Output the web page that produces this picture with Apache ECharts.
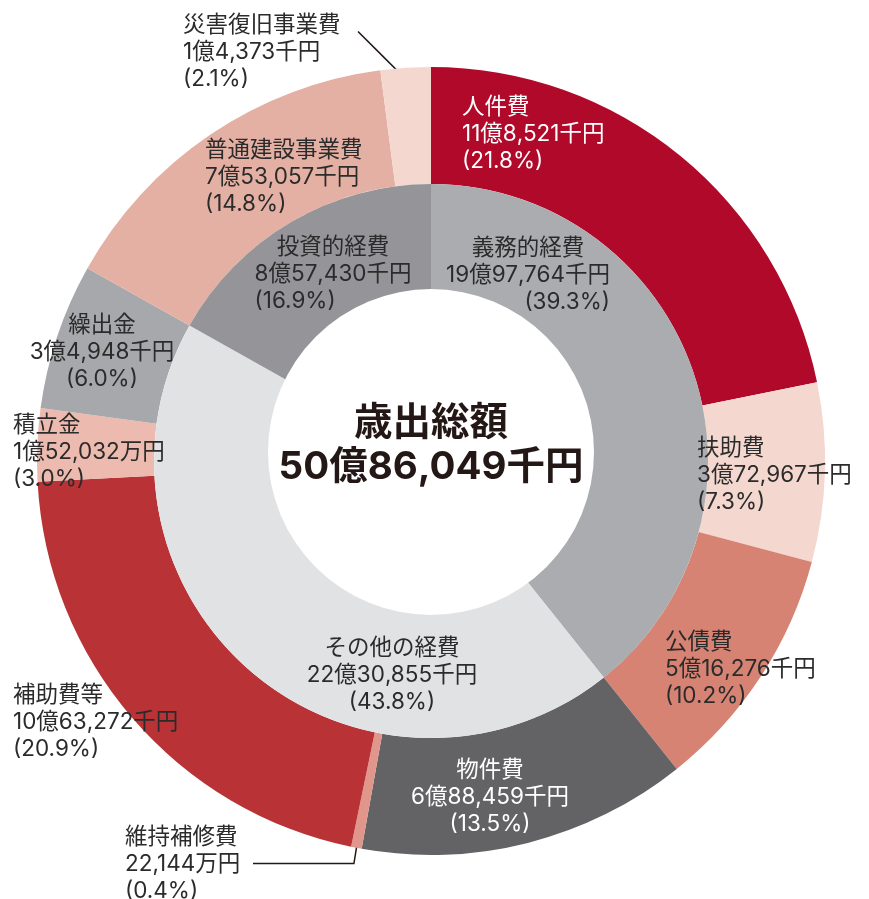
<!DOCTYPE html>
<html>
<head>
<meta charset="utf-8">
<script src="https://cdn.jsdelivr.net/npm/echarts@6/dist/echarts.min.js"></script>
<style>
html, body { margin: 0; padding: 0; background: #fff; }
#chart { width: 869px; height: 899px; }
</style>
</head>
<body>
<div id="chart"></div>
<script>
// 歳出（性質別）  単位: 千円
var outerNames = ['人件費', '扶助費', '公債費', '物件費', '維持補修費', '補助費等', '積立金', '繰出金', '普通建設事業費', '災害復旧事業費'];
var outerValues = [1108521, 372967, 516276, 688459, 22144, 1063272, 152032, 304948, 753057, 104373];
// 図中の表記どおり（維持補修費・積立金は「万円」表記）
var outerUnits = ['千円', '千円', '千円', '千円', '万円', '千円', '万円', '千円', '千円', '千円'];
var outerGroup = [0, 0, 0, 1, 1, 1, 1, 1, 2, 2];

var innerNames = ['義務的経費', 'その他の経費', '投資的経費'];
var innerValues = [1997764, 2230855, 857430];

var totalName = '歳出総額';

var outerColors = ['#b0092a', '#f4d8cf', '#d68374', '#636366', '#e0968a', '#b83236', '#ecbaae', '#a7a8ab', '#e5b0a4', '#f4d8cf'];
var innerColors = ['#abacaf', '#e1e2e4', '#959599'];

var CX = 431, CY = 461, R_OUT = 394, R_MID = 277, R_HOLE = 163;
var TEXT = '#2b2b2b';
var FONT = 'Inter, "Noto Sans CJK JP", sans-serif';
var FS = 22.5;

// ラベル位置（中心からの相対, 整列）
var outerLabelPos = [
    [31, -367.5, 'left'],
    [266, -26.5, 'left'],
    [234, 167.5, 'left'],
    [59, 295.5, 'center'],
    [-306, 362.5, 'left'],
    [-418, 220.5, 'left'],
    [-418, -49.5, 'left'],
    [-329, -149.5, 'center'],
    [-226, -324.5, 'left'],
    [-248, -449.5, 'left']
];
var innerLabelPos = [
    [97, -226.5, 'center'],
    [-39, 173.5, 'center'],
    [-98, -227.5, 'center']
];
var whiteLabels = [0, 3];

var total = outerValues.reduce(function (a, b) { return a + b; }, 0);

function fmtAmount(v, unit) {
    var oku = Math.floor(v / 100000);
    var rest = v % 100000;
    return (oku ? oku + '億' : '') + rest.toLocaleString('en-US') + unit;
}

function edgePoint(i, r) {
    var before = 0;
    for (var k = 0; k < i; k++) before += outerValues[k];
    var a = (before + outerValues[i] / 2) / total * Math.PI * 2;
    return [CX + r * Math.sin(a), CY - r * Math.cos(a)];
}

var ctx = document.createElement('canvas').getContext('2d');
ctx.font = FS + 'px ' + FONT;
function textW(s) { return ctx.measureText(s).width; }

var outerPct = outerValues.map(function (v) { return (v / total * 100).toFixed(1); });
var innerPct = innerNames.map(function (n, g) {
    var s = 0;
    outerGroup.forEach(function (gg, i) { if (gg === g) s += parseFloat(outerPct[i]); });
    return (Math.round(s * 10) / 10).toFixed(1);
});

// 引出線
var leaders = {
    9: function (x, y) {
        var s = edgePoint(9, R_OUT - 12);
        var e = [x + 175, y + 20];
        return [s, [(s[0] + e[0]) / 2, (s[1] + e[1]) / 2], e];
    },
    4: function (x, y) {
        var s = edgePoint(4, R_OUT - 3);
        return [s, [s[0] - 3, y + 40], [x + 128, y + 40]];
    }
};

var outerData = outerNames.map(function (n, i) {
    var item = {
        name: n,
        value: outerValues[i],
        itemStyle: { color: outerColors[i] },
        label: {
            formatter: n + '\n' + fmtAmount(outerValues[i], outerUnits[i]) + '\n(' + outerPct[i] + '%)',
            color: whiteLabels.indexOf(i) >= 0 ? '#fff' : TEXT
        }
    };
    if (leaders[i]) {
        item.label.position = 'outside';
        item.labelLine = { show: true, lineStyle: { color: '#231815', width: 1.5 } };
    }
    return item;
});

var innerData = innerNames.map(function (n, i) {
    var amt = fmtAmount(innerValues[i], '千円');
    var pctText = '(' + innerPct[i] + '%)';
    var gap = Math.max(0, textW(amt) - textW(pctText));
    var rich = {};
    var third = pctText;
    if (i === 0) { rich.p = { padding: [0, 0, 0, gap] }; third = '{p|' + pctText + '}'; }
    if (i === 2) { rich.p = { padding: [0, gap, 0, 0] }; third = '{p|' + pctText + '}'; }
    return {
        name: n,
        value: innerValues[i],
        itemStyle: { color: innerColors[i] },
        label: { formatter: n + '\n' + amt + '\n' + third, rich: rich }
    };
});

function makeLayout(posList, lines) {
    return function (p) {
        var a = posList[p.dataIndex];
        var x = CX + a[0], y = CY + a[1];
        var res = { x: x, y: y, align: a[2], verticalAlign: 'top' };
        if (lines && lines[p.dataIndex]) res.labelLinePoints = lines[p.dataIndex](x, y);
        return res;
    };
}

var labelBase = {
    show: true,
    position: 'inside',
    fontFamily: FONT,
    fontSize: FS,
    lineHeight: 27,
    color: TEXT
};

var chart = echarts.init(document.getElementById('chart'));
var option = {
    backgroundColor: '#fff',
    animation: false,
    series: [
        {
            name: '性質別',
            type: 'pie',
            center: [CX, CY],
            radius: [R_MID, R_OUT],
            startAngle: 90,
            clockwise: true,
            avoidLabelOverlap: false,
            silent: true,
            emphasis: { disabled: true },
            label: labelBase,
            labelLine: { show: false },
            labelLayout: makeLayout(outerLabelPos, leaders),
            data: outerData
        },
        {
            name: '区分',
            type: 'pie',
            center: [CX, CY],
            radius: [0, R_MID],
            startAngle: 90,
            clockwise: true,
            avoidLabelOverlap: false,
            silent: true,
            emphasis: { disabled: true },
            label: labelBase,
            labelLine: { show: false },
            labelLayout: makeLayout(innerLabelPos),
            data: innerData
        },
        {
            name: '総額',
            type: 'pie',
            center: [CX, CY - 9],
            radius: [0, R_HOLE],
            silent: true,
            emphasis: { disabled: true },
            label: {
                show: true,
                position: 'center',
                formatter: totalName + '\n' + fmtAmount(total, '千円'),
                fontFamily: FONT,
                fontSize: 38.5,
                fontWeight: 'bold',
                lineHeight: 44,
                color: '#231815'
            },
            labelLine: { show: false },
            labelLayout: function () {
                return { x: CX, y: CY - 16, align: 'center', verticalAlign: 'middle' };
            },
            data: [{ name: totalName, value: total, itemStyle: { color: '#fff' } }]
        }
    ]
};
chart.setOption(option);
</script>
</body>
</html>
